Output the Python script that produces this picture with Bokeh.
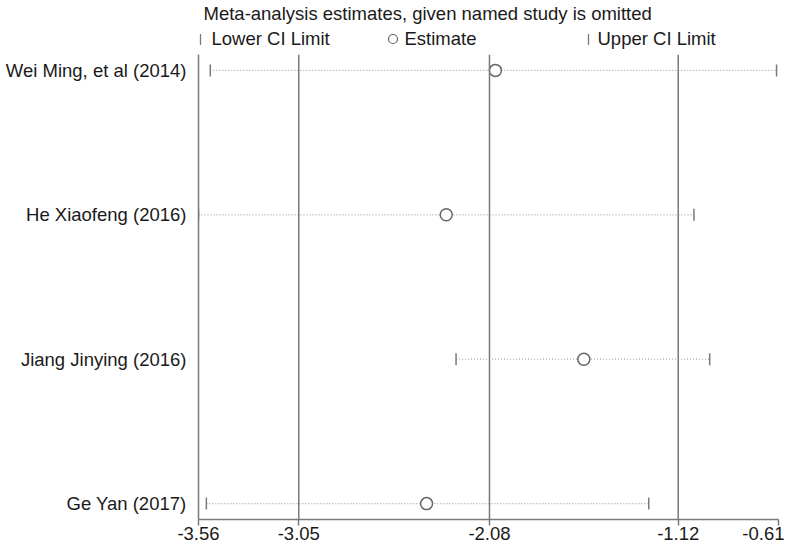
import numpy as np
from bokeh.plotting import figure
from bokeh.layouts import column
from bokeh.models import Range1d, FixedTicker, Span, ColumnDataSource
from bokeh.core.properties import value
from bokeh.embed import file_html
from bokeh.resources import INLINE

# ---- data ----
studies = ["Wei Ming, et al (2014)", "He Xiaofeng (2016)", "Jiang Jinying (2016)", "Ge Yan (2017)"]
rows = [1, 2, 3, 4]
lower = [-3.50, -3.56, -2.25, -3.52]
estimate = [-2.05, -2.30, -1.60, -2.40]
upper = [-0.62, -1.04, -0.96, -1.27]
ref_lines = [-3.05, -2.08, -1.12]
x_ticks = [-3.56, -3.05, -2.08, -1.12, -0.61]
title_text = "Meta-analysis estimates, given named study is omitted"
legend_items = ["Lower CI Limit", "Estimate", "Upper CI Limit"]

FONT = "Liberation Sans"
FS = "18.5px"
GRAY = "#7a7a7a"
DOT = "#a8a8a8"
TXT = "#1a1a1a"
W, H, HDR = 784, 542, 54
LEFT, RIGHT = 198, 6

# ---- header (title + legend); its frame is aligned with the main frame ----
hdr = figure(width=W, height=HDR, output_backend="svg", toolbar_location=None,
             x_range=Range1d(LEFT, W - RIGHT), y_range=Range1d(HDR, 0),
             min_border_left=LEFT, min_border_right=RIGHT, min_border_top=0, min_border_bottom=0)
hdr.axis.visible = False
hdr.grid.visible = False
hdr.outline_line_color = None
hdr.text(x=[203], y=[13], text=[title_text], text_font=value(FONT),
         text_font_size=FS, text_color=TXT, text_baseline="middle", text_align="left")
hdr.text(x=[211, 404, 597], y=[38, 38, 38], text=legend_items, text_font=value(FONT),
         text_font_size=FS, text_color=TXT, text_baseline="middle", text_align="left")
hdr.scatter(x=[200, 588], y=[39, 39], marker="dash", angle=np.pi / 2, size=11,
            line_color=GRAY, line_width=1.3)
hdr.scatter(x=[392.5], y=[38.5], marker="circle", size=9, fill_color="white",
            line_color="#666666", line_width=1.2)

# ---- main plot ----
src = ColumnDataSource(dict(y=rows, lower=lower, est=estimate, upper=upper))

p = figure(width=W, height=H - HDR, output_backend="svg", toolbar_location=None,
           x_range=Range1d(x_ticks[0], x_ticks[-1]), y_range=Range1d(4.11, 0.89),
           min_border_left=LEFT, min_border_right=RIGHT, min_border_top=0, min_border_bottom=14)
p.outline_line_color = None
p.xgrid.visible = False
p.ygrid.visible = False

for v in ref_lines:
    p.add_layout(Span(location=v, dimension="height", line_color=GRAY, line_width=1.5))

p.segment(x0="lower", y0="y", x1="upper", y1="y", source=src,
          line_color=DOT, line_width=1.2, line_dash="1 2")
p.scatter(x="lower", y="y", source=src, marker="dash", angle=np.pi / 2, size=12,
          line_color=GRAY, line_width=1.5)
p.scatter(x="upper", y="y", source=src, marker="dash", angle=np.pi / 2, size=12,
          line_color=GRAY, line_width=1.5)
p.scatter(x="est", y="y", source=src, marker="circle", size=12, fill_color="white",
          line_color="#666666", line_width=1.5)

xa = p.xaxis[0]
xa.ticker = FixedTicker(ticks=x_ticks)
xa.major_label_overrides = {t: f"{t:.2f}" for t in x_ticks}
xa.axis_line_color = GRAY
xa.axis_line_width = 1.5
xa.major_tick_line_color = GRAY
xa.major_tick_line_width = 1.5
xa.major_tick_in = 0
xa.major_tick_out = 6
xa.minor_tick_line_color = None
xa.major_label_standoff = 1
xa.major_label_text_font = FONT
xa.major_label_text_font_size = FS
xa.major_label_text_color = TXT

ya = p.yaxis[0]
ya.ticker = FixedTicker(ticks=rows)
ya.major_label_overrides = {r: s for r, s in zip(rows, studies)}
ya.axis_line_color = GRAY
ya.axis_line_width = 1.5
ya.major_tick_line_color = None
ya.major_tick_in = 0
ya.major_tick_out = 0
ya.minor_tick_line_color = None
ya.major_label_standoff = 12
ya.major_label_text_font = FONT
ya.major_label_text_font_size = FS
ya.major_label_text_color = TXT

layout = column(hdr, p, spacing=0)
open("out.html", "w").write(file_html(layout, INLINE))
